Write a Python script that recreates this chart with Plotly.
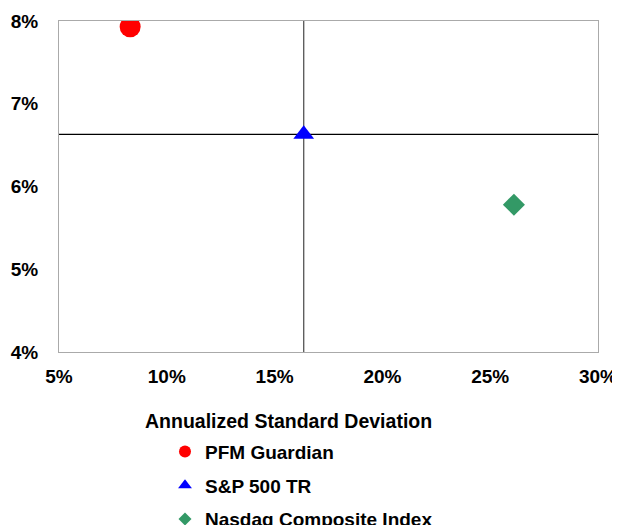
import plotly.graph_objects as go

names = ["PFM Guardian", "S&P 500 TR", "Nasdaq Composite Index"]
std_dev = [8.3, 16.35, 26.1]        # annualized standard deviation, %
returns = [7.93, 6.63, 5.78]        # annualized return, %
colors = ["#ff0000", "#0000ff", "#339966"]
symbols = ["circle", "triangle-up", "diamond"]
sizes = [21, 18, 17]
legend_sizes = [12, 12, 10]
x_ticks = [5, 10, 15, 20, 25, 30]
y_ticks = [4, 5, 6, 7, 8]
x_title = "Annualized Standard Deviation"

FONT = "Liberation Sans"

fig = go.Figure()
for n, x, y, c, s, sz, lsz in zip(names, std_dev, returns, colors, symbols, sizes, legend_sizes):
    fig.add_trace(go.Scatter(x=[x], y=[y], mode="markers", showlegend=False,
                             marker=dict(color=c, symbol=s, size=sz, line=dict(width=0))))
    fig.add_trace(go.Scatter(x=[None], y=[None], mode="markers", name=n, legendgroup=n,
                             marker=dict(color=c, symbol=s, size=lsz, line=dict(width=0))))

# crosshair through benchmark (S&P 500)
bx, by = std_dev[1], returns[1]
fig.add_shape(type="line", xref="x", yref="paper", x0=bx, x1=bx, y0=0, y1=1,
              line=dict(color="#555555", width=1.3), layer="below")
fig.add_shape(type="line", xref="paper", yref="y", x0=0, x1=1, y0=by, y1=by,
              line=dict(color="#000000", width=1.3), layer="below")

fig.add_annotation(text=f"<b>{x_title}</b>", xref="paper", yref="paper",
                   x=(288 - 59) / 539, y=-(421 - 352) / 332, xanchor="center", yanchor="middle",
                   showarrow=False, font=dict(family=FONT, size=19.5, color="#000"))

# page body adds an 8px offset, so the figure is smaller than the window
fig.update_layout(
    width=612, height=517,
    margin=dict(l=51, r=22, t=13, b=173, autoexpand=False),
    paper_bgcolor="white", plot_bgcolor="white",
    font=dict(family=FONT, color="#000"),
    xaxis=dict(range=[5, 30], tickvals=x_ticks, ticktext=[f"<b>{v}%</b>" for v in x_ticks],
               showgrid=False, zeroline=False, showline=True, mirror=True, automargin=False,
               linecolor="#aaaaaa", linewidth=1, ticks="", ticklabelstandoff=7,
               ticklabeloverflow="allow",
               tickfont=dict(family=FONT, size=19, color="#000")),
    yaxis=dict(range=[4, 8], tickvals=y_ticks, ticktext=[f"<b>{v}%</b>" for v in y_ticks],
               showgrid=False, zeroline=False, showline=True, mirror=True, automargin=False,
               linecolor="#aaaaaa", linewidth=1, ticks="", ticklabelstandoff=16,
               ticklabeloverflow="allow",
               tickfont=dict(family=FONT, size=19, color="#000")),
    legend=dict(x=(165 - 59) / 539, y=-(433 - 352) / 332, xanchor="left", yanchor="top",
                orientation="v", tracegroupgap=6, bgcolor="rgba(0,0,0,0)",
                font=dict(family=FONT, size=19, color="#000", weight="bold")),
)

fig.write_html("out.html")
